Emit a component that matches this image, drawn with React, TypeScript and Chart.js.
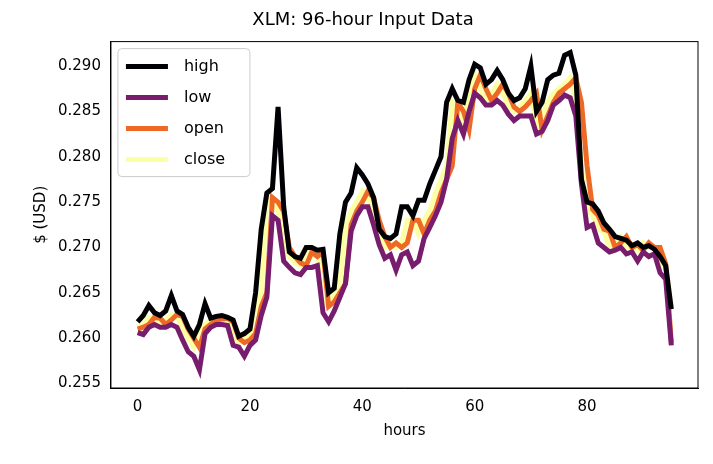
import { useEffect, useRef } from 'react';
import Chart from 'chart.js/auto';

const hours = Array.from({ length: 96 }, (_, i) => i);

const closeData = [
  0.2612, 0.2615, 0.2623, 0.2622, 0.2615, 0.2620, 0.2626, 0.2624, 0.2610, 0.2600,
  0.2590, 0.2610, 0.2615, 0.2620, 0.2621, 0.2622, 0.2618, 0.2600, 0.2595, 0.2598,
  0.2605, 0.2635, 0.2650, 0.2755, 0.2750, 0.2740, 0.2700, 0.2690, 0.2683, 0.2680,
  0.2695, 0.2690, 0.2695, 0.2635, 0.2640, 0.2650, 0.2660, 0.2725, 0.2740, 0.2750,
  0.2762, 0.2755, 0.2730, 0.2712, 0.2700, 0.2705, 0.2700, 0.2705, 0.2730, 0.2730,
  0.2715, 0.2730, 0.2740, 0.2760, 0.2775, 0.2790, 0.2860, 0.2850, 0.2830, 0.2875,
  0.2890, 0.2875, 0.2862, 0.2870, 0.2880, 0.2870, 0.2855, 0.2850, 0.2855, 0.2862,
  0.2870, 0.2830, 0.2845, 0.2860, 0.2870, 0.2875, 0.2880, 0.2887, 0.2860, 0.2790,
  0.2742, 0.2735, 0.2720, 0.2718, 0.2700, 0.2705, 0.2712, 0.2700, 0.2703, 0.2697,
  0.2705, 0.2700, 0.2700, 0.2682, 0.2678, 0.2632,
];

const openData = [
  0.2610, 0.2612, 0.2615, 0.2623, 0.2622, 0.2615, 0.2620, 0.2626, 0.2624, 0.2610,
  0.2600, 0.2590, 0.2610, 0.2615, 0.2620, 0.2621, 0.2622, 0.2618, 0.2600, 0.2595,
  0.2598, 0.2605, 0.2635, 0.2650, 0.2755, 0.2750, 0.2740, 0.2700, 0.2690, 0.2683,
  0.2680, 0.2695, 0.2690, 0.2695, 0.2635, 0.2640, 0.2650, 0.2660, 0.2725, 0.2740,
  0.2750, 0.2762, 0.2755, 0.2730, 0.2712, 0.2700, 0.2705, 0.2700, 0.2705, 0.2730,
  0.2730, 0.2715, 0.2730, 0.2740, 0.2760, 0.2775, 0.2790, 0.2860, 0.2850, 0.2830,
  0.2875, 0.2890, 0.2875, 0.2862, 0.2870, 0.2880, 0.2870, 0.2855, 0.2850, 0.2855,
  0.2862, 0.2870, 0.2830, 0.2845, 0.2860, 0.2870, 0.2875, 0.2880, 0.2887, 0.2860,
  0.2790, 0.2742, 0.2735, 0.2720, 0.2718, 0.2700, 0.2705, 0.2712, 0.2700, 0.2703,
  0.2697, 0.2705, 0.2700, 0.2700, 0.2682, 0.2595,
];

const highData = [
  0.2618, 0.2625, 0.2636, 0.2628, 0.2625, 0.2630, 0.2647, 0.2630, 0.2626, 0.2612,
  0.2602, 0.2615, 0.2638, 0.2622, 0.2624, 0.2625, 0.2623, 0.2620, 0.2602, 0.2605,
  0.2610, 0.2650, 0.2720, 0.2760, 0.2765, 0.2855, 0.2745, 0.2695, 0.2690, 0.2688,
  0.2700, 0.2700, 0.2697, 0.2698, 0.2650, 0.2655, 0.2715, 0.2750, 0.2760, 0.2788,
  0.2780, 0.2770, 0.2755, 0.2720, 0.2712, 0.2710, 0.2715, 0.2745, 0.2745, 0.2735,
  0.2752, 0.2752, 0.2770, 0.2785, 0.2800, 0.2860, 0.2875, 0.2862, 0.2860, 0.2885,
  0.2902, 0.2898, 0.2880, 0.2885, 0.2895, 0.2885, 0.2870, 0.2862, 0.2865, 0.2875,
  0.2900, 0.2850, 0.2860, 0.2885, 0.2890, 0.2892, 0.2912, 0.2915, 0.2890, 0.2775,
  0.2750, 0.2748, 0.2740, 0.2727, 0.2720, 0.2712, 0.2710, 0.2708, 0.2702, 0.2705,
  0.2700, 0.2702, 0.2698, 0.2690, 0.2680, 0.2632,
];

const lowData = [
  0.2606, 0.2604, 0.2612, 0.2615, 0.2612, 0.2612, 0.2615, 0.2612, 0.2598, 0.2585,
  0.2580, 0.2565, 0.2605, 0.2612, 0.2615, 0.2615, 0.2614, 0.2592, 0.2590, 0.2580,
  0.2592, 0.2598, 0.2625, 0.2645, 0.2735, 0.2730, 0.2685, 0.2678, 0.2672, 0.2670,
  0.2678, 0.2678, 0.2680, 0.2628, 0.2618, 0.2630, 0.2645, 0.2660, 0.2718, 0.2735,
  0.2745, 0.2745, 0.2725, 0.2703, 0.2688, 0.2692, 0.2675, 0.2692, 0.2695, 0.2680,
  0.2685, 0.2710, 0.2722, 0.2735, 0.2750, 0.2775, 0.2820, 0.2840, 0.2825, 0.2850,
  0.2870, 0.2865, 0.2857, 0.2857, 0.2862, 0.2857, 0.2847, 0.2840, 0.2845, 0.2845,
  0.2845, 0.2825, 0.2828, 0.2840, 0.2857, 0.2862, 0.2868, 0.2865, 0.2845, 0.2770,
  0.2722, 0.2725, 0.2705, 0.2700, 0.2695, 0.2697, 0.2700, 0.2693, 0.2695, 0.2685,
  0.2695, 0.2690, 0.2693, 0.2672, 0.2665, 0.2592,
];

const yTicks = [0.255, 0.26, 0.265, 0.27, 0.275, 0.28, 0.285, 0.29];
const xTicks = [0, 20, 40, 60, 80];

const seriesNames = ['high', 'low', 'open', 'close'];
const seriesColors = ['#000004', '#781c6d', '#ed6925', '#fcffa4'];

// matplotlib-style legend box inside the plot, plus the top/right frame
const innerLegend = {
  id: 'innerLegend',
  afterDraw(chart: Chart) {
    const { ctx, chartArea } = chart;
    ctx.save();
    ctx.strokeStyle = '#000';
    ctx.lineWidth = 1;
    ctx.strokeRect(chartArea.left, chartArea.top, chartArea.right - chartArea.left, chartArea.bottom - chartArea.top);
    const x = chartArea.left + 7;
    const y = chartArea.top + 7;
    const w = 132;
    const h = 128;
    ctx.fillStyle = 'rgba(255,255,255,0.8)';
    ctx.strokeStyle = '#cccccc';
    ctx.beginPath();
    ctx.roundRect(x, y, w, h, 4);
    ctx.fill();
    ctx.stroke();
    ctx.font = '16px "DejaVu Sans"';
    ctx.textBaseline = 'middle';
    chart.data.datasets.forEach((ds, i) => {
      const ly = y + 18 + i * 31;
      ctx.strokeStyle = ds.borderColor as string;
      ctx.lineWidth = 5;
      ctx.beginPath();
      ctx.moveTo(x + 8, ly);
      ctx.lineTo(x + 50, ly);
      ctx.stroke();
      ctx.fillStyle = '#000';
      ctx.fillText(ds.label as string, x + 66, ly);
    });
    ctx.restore();
  },
};

export default function App() {
  const canvasRef = useRef<HTMLCanvasElement>(null);

  useEffect(() => {
    if (!canvasRef.current) return;
    const series = [highData, lowData, openData, closeData];
    const chart = new Chart(canvasRef.current, {
      type: 'line',
      data: {
        datasets: series.map((d, i) => ({
          label: seriesNames[i],
          data: d.map((v, j) => ({ x: hours[j], y: v })),
          borderColor: seriesColors[i],
          borderWidth: 5,
          pointRadius: 0,
          tension: 0,
        })),
      },
      plugins: [innerLegend],
      options: {
        animation: false,
        responsive: false,
        devicePixelRatio: 1,
        layout: { padding: { left: 28, right: 15, top: 6, bottom: 20 } },
        plugins: {
          legend: { display: false },
          tooltip: { enabled: false },
          title: {
            display: true,
            text: 'XLM: 96-hour Input Data',
            color: '#000',
            font: { family: 'DejaVu Sans', size: 18, weight: 'normal' },
            padding: { top: 4, bottom: 10 },
          },
        },
        scales: {
          x: {
            type: 'linear',
            min: -4.75,
            max: 99.75,
            afterBuildTicks: (axis) => { axis.ticks = xTicks.map((v) => ({ value: v })); },
            grid: { display: false, drawTicks: true, tickLength: 6, tickColor: '#000' },
            border: { color: '#000', width: 1 },
            ticks: { color: '#000', font: { family: 'DejaVu Sans', size: 15 }, padding: 4 },
            title: { display: true, text: 'hours', color: '#000', font: { family: 'DejaVu Sans', size: 15 }, padding: { top: 2 } },
          },
          y: {
            type: 'linear',
            min: 0.2545,
            max: 0.2927,
            afterBuildTicks: (axis) => { axis.ticks = yTicks.map((v) => ({ value: v })); },
            grid: { display: false, drawTicks: true, tickLength: 6, tickColor: '#000' },
            border: { color: '#000', width: 1 },
            ticks: { color: '#000', font: { family: 'DejaVu Sans', size: 15 }, padding: 4, callback: (v) => Number(v).toFixed(3) },
            title: { display: true, text: '$ (USD)', color: '#000', font: { family: 'DejaVu Sans', size: 15 } },
          },
        },
      },
    });
    return () => chart.destroy();
  }, []);

  return (
    <div style={{ width: 713, height: 464, margin: -8, background: '#fff' }}>
      <canvas ref={canvasRef} width={713} height={464} />
    </div>
  );
}
